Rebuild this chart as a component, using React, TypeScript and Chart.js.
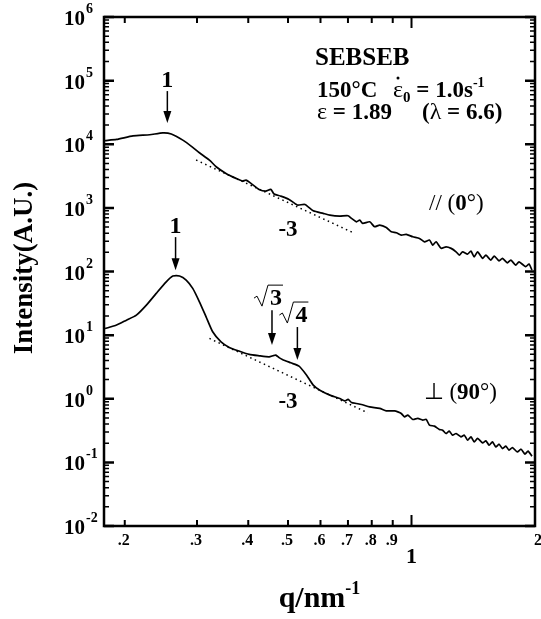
import React, { useEffect, useRef } from "react";
import { Chart, registerables } from "chart.js";

Chart.register(...registerables);

// Parallel (0°) curve
const upperQ = [0.179,0.191,0.2095,0.230,0.2477,0.2597,0.277,0.2929,0.3041,0.3217,0.334,0.353,0.3734,0.3874,0.3949,0.4061,0.4251,0.4414,0.4539,0.4624,0.48,0.5029,0.5266,0.5498,0.5761,0.6091,0.6324,0.6685,0.7004,0.714,0.7342,0.7478,0.7604,0.7907,0.8131,0.8363,0.8681,0.8928,0.9182,0.9441,0.9708,1.0074,1.0457,1.0754,1.106,1.126,1.148,1.181,1.214,1.249,1.284,1.308,1.332,1.37,1.396,1.422,1.449,1.49,1.518,1.561,1.591,1.635,1.666,1.713,1.746,1.795,1.828,1.898,1.934,1.966];
const upperI = [11400,11900,13500,14100,15100,14500,11600,8940,7350,5640,4430,3480,2910,2640,2730,2430,1950,1840,1950,1650,1530,1360,1110,1130,900,820,771,743,751,684,604,643,570,604,505,537,493,421,406,373,383,351,331,293,312,260,293,231,244,231,204,181,204,188,209,170,204,161,181,151,175,147,161,137,151,126,142,119,131,105];

// Perpendicular (90°) curve
const lowerQ = [0.179,0.191,0.2019,0.2135,0.2258,0.2386,0.2524,0.2619,0.272,0.2823,0.2929,0.3041,0.3157,0.3276,0.3433,0.3596,0.3802,0.4021,0.4251,0.4496,0.4605,0.4668,0.4756,0.4844,0.5078,0.5318,0.5551,0.5761,0.5979,0.6324,0.6685,0.6877,0.7004,0.714,0.7342,0.7549,0.7907,0.8363,0.8681,0.9094,0.9262,0.9441,0.9616,0.9795,1.0074,1.036,1.065,1.086,1.106,1.137,1.169,1.191,1.214,1.236,1.259,1.284,1.32,1.345,1.37,1.396,1.422,1.449,1.49,1.518,1.546,1.575,1.605,1.635,1.666,1.698,1.729,1.762,1.811,1.849,1.891,1.923,1.966];
const lowerI = [12.7,14.4,17.2,20.6,29.6,45.3,68.9,84.7,85,73.3,54.2,33.4,19.4,11.3,7.85,6.41,5.6,4.97,4.73,4.56,4.76,4.85,4.43,4.15,3.67,3.26,2.35,1.64,1.36,1.14,1.01,0.927,0.975,0.875,0.843,0.813,0.746,0.704,0.645,0.645,0.622,0.587,0.519,0.552,0.473,0.49,0.461,0.473,0.385,0.371,0.329,0.321,0.284,0.31,0.268,0.284,0.252,0.268,0.223,0.252,0.21,0.238,0.203,0.218,0.186,0.21,0.175,0.193,0.165,0.18,0.156,0.171,0.146,0.161,0.135,0.15,0.125];

// q^-3 guide lines
const guideUpperQ = [0.2985, 0.727];
const guideUpperI = [5644, 397];
const guideLowerQ = [0.3217, 0.783];
const guideLowerI = [8.87, 0.6];

// axis ticks
const xTickValues = [0.2, 0.3, 0.4, 0.5, 0.6, 0.7, 0.8, 0.9, 1, 2];
const xTickLabels = [".2", ".3", ".4", ".5", ".6", ".7", ".8", ".9", "1", "2"];
const yDecades = [-2, -1, 0, 1, 2, 3, 4, 5, 6];

// peak arrows
const arrowQ = [0.254, 0.266, 0.457, 0.527];
const arrowTopI = [68500, 347, 24.7, 13.4];
const arrowTipI = [21600, 105, 6.97, 4.05];
const arrowLabels = ["1", "1", "3", "4"];
const arrowRadical = [false, false, true, true];

// slope and orientation labels
const slopeLabelQ = [0.5, 0.5];
const slopeLabelI = [481, 0.95];
const orientQ = [1.286, 1.315];
const orientI = [1233, 1.32];

const SERIF = '"Liberation Serif", "Times New Roman", Times, serif';
const B = (n: number) => `bold ${n}px ${SERIF}`;
const R = (n: number) => `${n}px ${SERIF}`;

type Run = { t: string; f: string; dy?: number };

function drawRuns(ctx: CanvasRenderingContext2D, x: number, y: number, runs: Run[], align: "left" | "center" | "right" = "left") {
  let total = 0;
  for (const r of runs) {
    ctx.font = r.f;
    total += ctx.measureText(r.t).width;
  }
  let cx = align === "left" ? x : align === "center" ? x - total / 2 : x - total;
  ctx.textAlign = "left";
  ctx.textBaseline = "alphabetic";
  const positions: number[] = [];
  for (const r of runs) {
    ctx.font = r.f;
    positions.push(cx);
    ctx.fillText(r.t, cx, y + (r.dy || 0));
    cx += ctx.measureText(r.t).width;
  }
  return positions;
}

function pts(qs: number[], is: number[]) {
  return qs.map((q, i) => ({ x: q, y: is[i] }));
}

const decor = {
  id: "decor",
  beforeDraw(chart: any) {
    const ctx = chart.ctx;
    ctx.save();
    ctx.fillStyle = "#fff";
    ctx.fillRect(0, 0, chart.width, chart.height);
    ctx.restore();
  },
  afterDraw(chart: any) {
    const ctx: CanvasRenderingContext2D = chart.ctx;
    const { left, right, top, bottom } = chart.chartArea;
    const xs = chart.scales.x;
    const ys = chart.scales.y;
    ctx.save();
    ctx.strokeStyle = "#000";
    ctx.fillStyle = "#000";
    ctx.lineCap = "butt";

    // y ticks (both sides, inward)
    for (const d of yDecades) {
      const y = ys.getPixelForValue(Math.pow(10, d));
      ctx.lineWidth = 2.5;
      ctx.beginPath();
      ctx.moveTo(left, y); ctx.lineTo(left + 10, y);
      ctx.moveTo(right, y); ctx.lineTo(right - 10, y);
      ctx.stroke();
      if (d < 6) {
        ctx.lineWidth = 1.5;
        ctx.beginPath();
        for (let k = 2; k <= 9; k++) {
          const ym = ys.getPixelForValue(k * Math.pow(10, d));
          ctx.moveTo(left, ym); ctx.lineTo(left + 5, ym);
          ctx.moveTo(right, ym); ctx.lineTo(right - 5, ym);
        }
        ctx.stroke();
      }
      drawRuns(ctx, left - 19, y + 8, [{ t: "10", f: B(21) }], "right");
      drawRuns(ctx, left - 18, y - 4, [{ t: String(d), f: B(14) }], "left");
    }

    // x ticks (both sides, inward)
    xTickValues.forEach((v, i) => {
      const x = xs.getPixelForValue(v);
      const len = v === 1 ? 11 : 6;
      ctx.lineWidth = 2;
      ctx.beginPath();
      ctx.moveTo(x, bottom); ctx.lineTo(x, bottom - len);
      ctx.moveTo(x, top); ctx.lineTo(x, top + len);
      ctx.stroke();
      const lab = xTickLabels[i];
      if (v === 1) {
        drawRuns(ctx, x, bottom + 37, [{ t: lab, f: B(22) }], "center");
      } else if (v === 2) {
        drawRuns(ctx, x - 1, bottom + 19, [{ t: lab, f: B(16) }], "left");
      } else {
        drawRuns(ctx, x - 1, bottom + 19, [{ t: lab, f: B(16) }], "center");
      }
    });

    // frame
    ctx.lineWidth = 2.5;
    ctx.strokeRect(left, top, right - left, bottom - top);

    // axis titles
    drawRuns(ctx, (left + right) / 2, 607, [
      { t: "q/nm", f: B(30) },
      { t: "-1", f: B(18), dy: -13 },
    ], "center");
    ctx.save();
    ctx.translate(25, 268);
    ctx.rotate(-Math.PI / 2);
    ctx.font = B(27);
    ctx.textAlign = "center";
    ctx.textBaseline = "middle";
    ctx.fillText("Intensity(A.U.)", 0, 0);
    ctx.restore();

    // arrows
    arrowQ.forEach((q, i) => {
      const x = xs.getPixelForValue(q);
      const yt = ys.getPixelForValue(arrowTopI[i]);
      const yp = ys.getPixelForValue(arrowTipI[i]);
      ctx.lineWidth = 1.5;
      ctx.beginPath();
      ctx.moveTo(x, yt); ctx.lineTo(x, yp - 10);
      ctx.stroke();
      ctx.beginPath();
      ctx.moveTo(x - 4, yp - 12);
      ctx.lineTo(x + 4, yp - 12);
      ctx.lineTo(x, yp);
      ctx.closePath();
      ctx.fill();
      if (!arrowRadical[i]) {
        drawRuns(ctx, x, yt - 4, [{ t: arrowLabels[i], f: B(24) }], "center");
      } else {
        const L = x - 2;
        const by = yt - 5;
        ctx.font = B(24);
        const w = ctx.measureText(arrowLabels[i]).width;
        drawRuns(ctx, L, by, [{ t: arrowLabels[i], f: B(24) }], "left");
        ctx.lineWidth = 1;
        ctx.beginPath();
        ctx.moveTo(L - 16, by - 7);
        ctx.lineTo(L - 13, by - 9);
        ctx.lineTo(L - 8, by + 1);
        ctx.lineTo(L - 2, by - 20);
        ctx.lineTo(L + w + 1, by - 20);
        ctx.stroke();
      }
    });

    // slope labels
    slopeLabelQ.forEach((q, i) => {
      const x = xs.getPixelForValue(q);
      const y = ys.getPixelForValue(slopeLabelI[i]);
      drawRuns(ctx, x, y + 8, [{ t: "-3", f: B(23) }], "center");
    });

    // orientation labels
    {
      const x0 = xs.getPixelForValue(orientQ[0]);
      const y0 = ys.getPixelForValue(orientI[0]);
      drawRuns(ctx, x0, y0 + 8, [
        { t: "// (", f: R(23) },
        { t: "0", f: B(23) },
        { t: "°)", f: R(23) },
      ], "center");
      const x1 = xs.getPixelForValue(orientQ[1]);
      const y1 = ys.getPixelForValue(orientI[1]);
      drawRuns(ctx, x1, y1 + 8, [
        { t: "⊥ (", f: R(23) },
        { t: "90", f: B(23) },
        { t: "°)", f: R(23) },
      ], "center");
    }

    // sample info block
    drawRuns(ctx, 315, 65, [{ t: "SEBSEB", f: B(25) }]);
    drawRuns(ctx, 317, 97, [{ t: "150°C", f: B(23) }]);
    const p = drawRuns(ctx, 393, 97, [
      { t: "ε", f: R(24) },
      { t: "0", f: B(15), dy: 5 },
      { t: " = 1.0s", f: B(23) },
      { t: "-1", f: B(14), dy: -10 },
    ]);
    ctx.beginPath();
    ctx.arc(p[0] + 5, 97 - 19, 1.5, 0, Math.PI * 2);
    ctx.fill();
    drawRuns(ctx, 317, 119, [
      { t: "ε", f: R(24) },
      { t: " = 1.89", f: B(23) },
    ]);
    drawRuns(ctx, 422, 119, [
      { t: "(", f: B(23) },
      { t: "λ", f: R(24) },
      { t: " = 6.6)", f: B(23) },
    ]);

    ctx.restore();
  },
};

export default function App() {
  const ref = useRef<HTMLCanvasElement | null>(null);
  useEffect(() => {
    if (!ref.current) return;
    const solid = { borderColor: "#000", borderWidth: 1.7, pointRadius: 0, showLine: true, tension: 0.2, fill: false };
    const dotted = { borderColor: "#000", borderWidth: 1.5, pointRadius: 0, showLine: true, borderDash: [1.5, 3.5], fill: false };
    const chart = new Chart(ref.current, {
      type: "scatter",
      data: {
        datasets: [
          { ...solid, label: "// (0°)", data: pts(upperQ, upperI) },
          { ...solid, label: "⊥ (90°)", data: pts(lowerQ, lowerI) },
          { ...dotted, label: "-3 upper", data: pts(guideUpperQ, guideUpperI) },
          { ...dotted, label: "-3 lower", data: pts(guideLowerQ, guideLowerI) },
        ] as any,
      },
      options: {
        animation: false,
        responsive: false,
        events: [],
        layout: { padding: { left: 104, top: 17, right: 6, bottom: 93 } },
        plugins: { legend: { display: false }, tooltip: { enabled: false } },
        scales: {
          x: { type: "logarithmic", min: 0.178, max: 2, display: false },
          y: { type: "logarithmic", min: 0.01, max: 1e6, display: false },
        },
      },
      plugins: [decor],
    });
    return () => chart.destroy();
  }, []);
  return (
    <div style={{ position: "absolute", left: 0, top: 0, width: 541, height: 619, background: "#fff" }}>
      <canvas ref={ref} width={541} height={619} style={{ width: 541, height: 619, display: "block" }} />
    </div>
  );
}
